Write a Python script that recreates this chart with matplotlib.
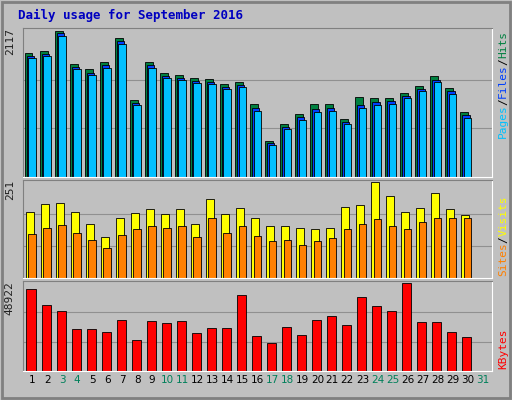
import matplotlib
matplotlib.use("Agg")
import matplotlib.pyplot as plt
import numpy as np

days = list(range(1, 31))
labels = [str(i) for i in range(1, 32)]
weekend = [3, 4, 10, 11, 17, 18, 24, 25, 31]
hits = [1796,1825,2117,1635,1562,1664,2015,1110,1664,1504,1475,1431,1416,1343,1372,1051,526,774,920,1051,1051,847,1153,1139,1139,1212,1314,1460,1285,949]
files = [1750,1780,2080,1590,1510,1620,1970,1070,1620,1460,1440,1390,1380,1300,1330,1000,490,730,870,990,1000,800,1050,1080,1100,1170,1270,1410,1240,900]
pages = [1720,1750,2040,1560,1480,1580,1930,1040,1580,1430,1410,1360,1350,1270,1300,960,460,700,820,940,950,770,1000,1040,1060,1140,1240,1380,1200,860]
visits = [172,194,196,172,142,106,156,169,180,166,180,142,207,166,183,158,136,136,131,128,131,186,191,251,213,172,183,221,180,164]
sites = [115,131,139,117,98,79,112,128,137,131,137,106,158,117,137,109,96,98,87,96,104,128,142,153,137,128,147,158,156,158]
kbytes = [45500,36400,33000,23300,23300,21600,28400,17100,27900,26700,27900,21000,23900,23900,42100,19300,15400,24500,19900,28400,30700,25600,41000,35800,33000,48922,27300,27300,21600,18800]

bg = "#C0C0C0"
fig = plt.figure(figsize=(5.12, 4.0), dpi=100, facecolor=bg)
fig.add_artist(plt.Rectangle((0.004, 0.004), 0.992, 0.992, transform=fig.transFigure,
                             fill=False, edgecolor="#808080", lw=2))
mono = "DejaVu Sans Mono"
fig.text(0.035, 0.962, "Daily usage for September 2016", color="#0000C0",
         fontsize=9, fontweight="bold", family=mono, va="center")

L, W = 0.045, 0.915
axes = [fig.add_axes([L, 0.5575, W, 0.3725]),
        fig.add_axes([L, 0.305, W, 0.245]),
        fig.add_axes([L, 0.0725, W, 0.225])]
x = np.array(days)
bw = 0.5

def style(ax, top, label):
    ax.set_facecolor(bg)
    ax.set_xlim(0.4, 31.6)
    ax.set_ylim(0, top * 1.02)
    ax.set_yticks([])
    for f in (1/3, 2/3):
        ax.axhline(top * f, color="#909090", lw=0.8, zorder=0)
    for s in ("top", "left"):
        ax.spines[s].set_color("#808080")
    for s in ("bottom", "right"):
        ax.spines[s].set_color("white")
    ax.text(-0.028, 1.0, label, transform=ax.transAxes, rotation=90,
            ha="center", va="top", fontsize=8, family=mono, color="#202020")

ax = axes[0]
style(ax, 2117, "2117")
ax.bar(x - 0.22, hits, bw, color="#008040", edgecolor="black", lw=0.6)
ax.bar(x - 0.11, files, bw, color="#0040FF", edgecolor="black", lw=0.6)
ax.bar(x, pages, bw, color="#00C0FF", edgecolor="black", lw=0.6)
ax.set_xticks([])

ax = axes[1]
style(ax, 251, "251")
ax.bar(x - 0.15, visits, bw, color="#FFFF00", edgecolor="black", lw=0.6)
ax.bar(x, sites, bw, color="#FF8000", edgecolor="black", lw=0.6)
ax.set_xticks([])

ax = axes[2]
style(ax, 48922, "48922")
ax.bar(x - 0.07, kbytes, 0.6, color="#FF0000", edgecolor="black", lw=0.6)
ax.set_xticks(range(1, 32))
ax.set_xticklabels(labels, fontsize=7.5)
ax.tick_params(length=0, pad=3)
for t, d in zip(ax.get_xticklabels(), range(1, 32)):
    t.set_color("#00805A" if d in weekend else "black")

def side(ax, parts, y0):
    y = y0
    for txt, c in parts:
        t = ax.text(1.025, y, txt, transform=ax.transAxes, rotation=90,
                    ha="center", va="bottom", fontsize=8, family=mono, color=c)
        y += len(txt) * 0.045 * (0.3725 / ax.get_position().height)

side(axes[0], [("Pages", "#00C0FF"), ("/", "black"), ("Files", "#0040FF"),
               ("/", "black"), ("Hits", "#008040")], 0.26)
side(axes[1], [("Sites", "#FF8000"), ("/", "black"), ("Visits", "#FFFF00")], 0.02)
side(axes[2], [("KBytes", "#FF0000")], 0.02)

fig.savefig("out.png", dpi=100, facecolor=bg)
